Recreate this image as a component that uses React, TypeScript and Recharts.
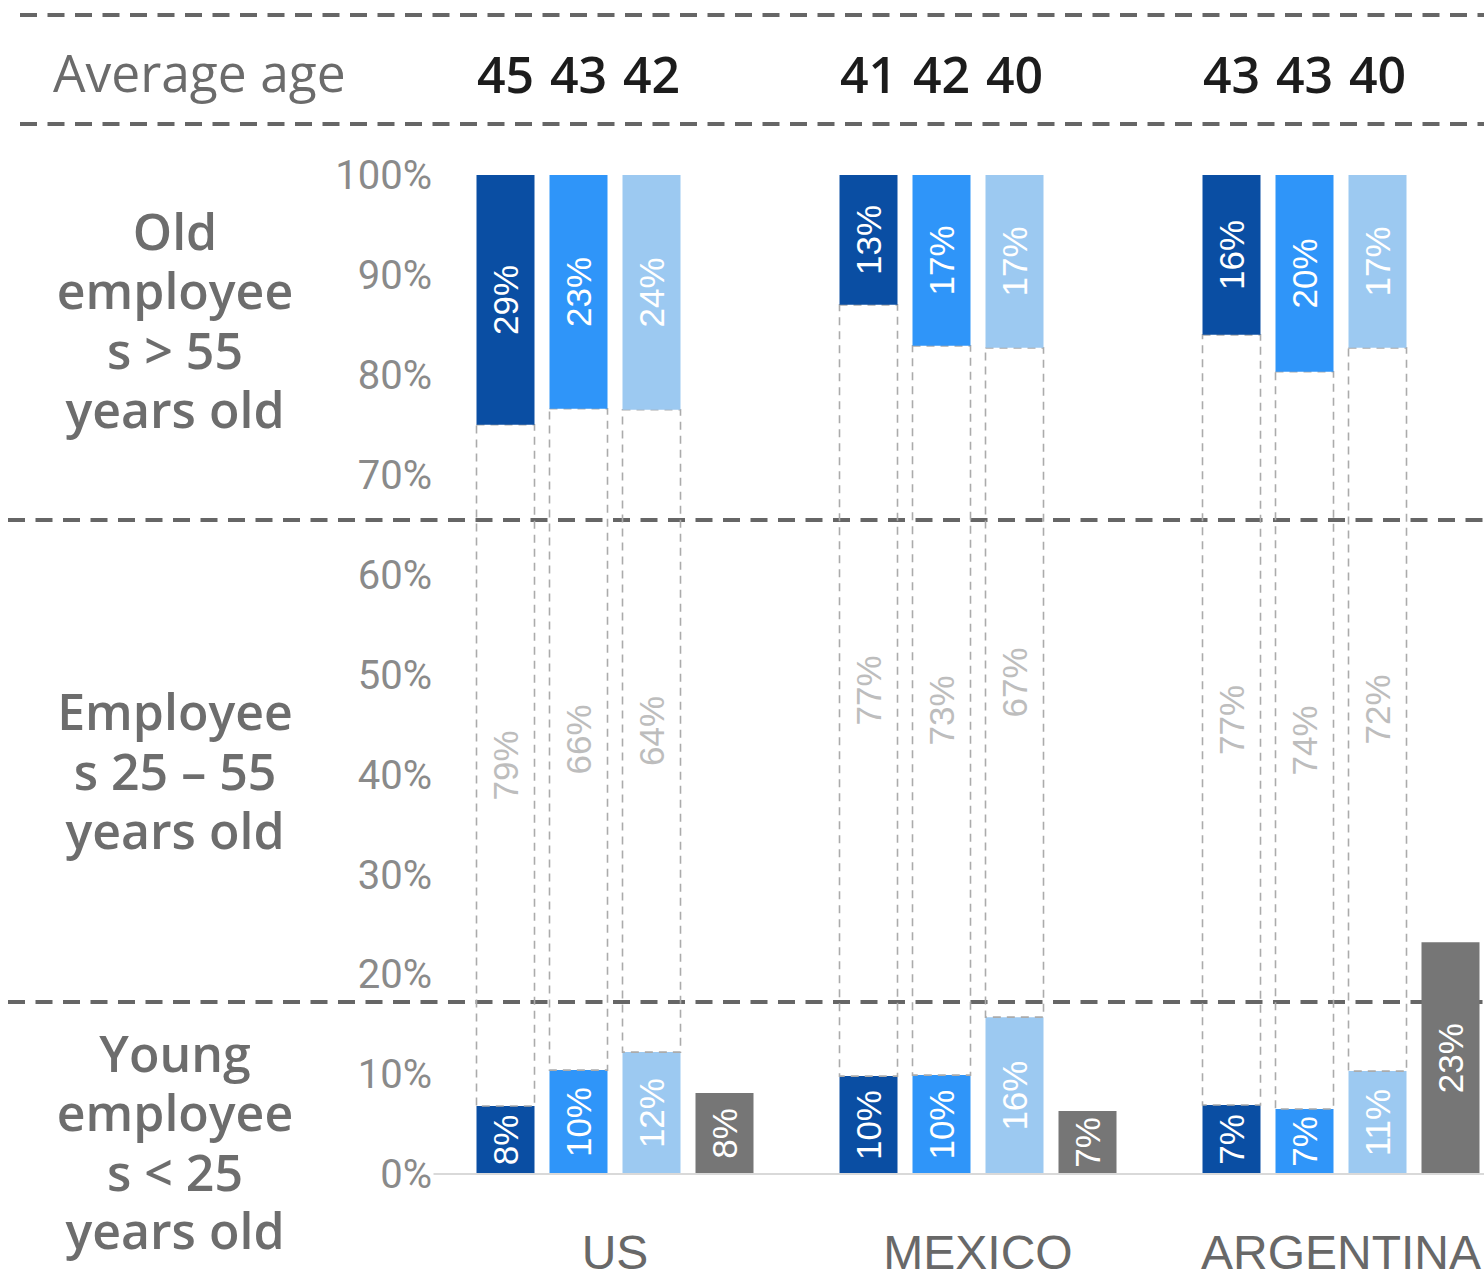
import React from 'react';
import { BarChart, Bar, XAxis, YAxis, LabelList } from 'recharts';

const categories = ['US', 'MEXICO', 'ARGENTINA'];
const yTicks = [0, 10, 20, 30, 40, 50, 60, 70, 80, 90, 100];

// bar segment heights (share of 100%)
const darkYoung = [6.8, 9.8, 6.9];
const darkOld = [25.0, 13.0, 16.0];
const blueYoung = [10.4, 9.9, 6.5];
const blueOld = [23.4, 17.1, 19.7];
const lightYoung = [12.2, 15.7, 10.3];
const lightOld = [23.5, 17.3, 17.3];
const grayValues = [8.1, 6.3, 23.2];

// printed labels
const darkYoungLabels = ['8%', '10%', '7%'];
const darkMidLabels = ['79%', '77%', '77%'];
const darkOldLabels = ['29%', '13%', '16%'];
const blueYoungLabels = ['10%', '10%', '7%'];
const blueMidLabels = ['66%', '73%', '74%'];
const blueOldLabels = ['23%', '17%', '20%'];
const lightYoungLabels = ['12%', '16%', '11%'];
const lightMidLabels = ['64%', '67%', '72%'];
const lightOldLabels = ['24%', '17%', '17%'];
const grayLabels = ['8%', '7%', '23%'];

// average age
const darkAge = [45, 41, 43];
const blueAge = [43, 42, 43];
const lightAge = [42, 40, 40];

const rowLabels = [
  { lines: ['Old', 'employee', 's > 55', 'years old'], baselines: [250, 309, 369, 428] },
  { lines: ['Employee', 's 25 – 55', 'years old'], baselines: [730, 790, 849] },
  { lines: ['Young', 'employee', 's < 25', 'years old'], baselines: [1072, 1131, 1191, 1249] },
];

const data = categories.map((name, i) => ({
  name,
  darkYoung: darkYoung[i],
  darkMid: +(100 - darkYoung[i] - darkOld[i]).toFixed(2),
  darkOld: darkOld[i],
  blueYoung: blueYoung[i],
  blueMid: +(100 - blueYoung[i] - blueOld[i]).toFixed(2),
  blueOld: blueOld[i],
  lightYoung: lightYoung[i],
  lightMid: +(100 - lightYoung[i] - lightOld[i]).toFixed(2),
  lightOld: lightOld[i],
  gray: grayValues[i],
  darkYoungLabel: darkYoungLabels[i],
  darkMidLabel: darkMidLabels[i],
  darkOldLabel: darkOldLabels[i],
  blueYoungLabel: blueYoungLabels[i],
  blueMidLabel: blueMidLabels[i],
  blueOldLabel: blueOldLabels[i],
  lightYoungLabel: lightYoungLabels[i],
  lightMidLabel: lightMidLabels[i],
  lightOldLabel: lightOldLabels[i],
  grayLabel: grayLabels[i],
  darkAge: darkAge[i],
  blueAge: blueAge[i],
  lightAge: lightAge[i],
}));

const COLORS = {
  dark: '#0A4EA3',
  blue: '#2F95F9',
  light: '#9CC9F1',
  gray: '#767676',
};

const LABEL_FONT = '"Liberation Sans", Arial, sans-serif';
const HUMAN_FONT = '"Open Sans", "Noto Sans", sans-serif';

const getBox = (props: any) => {
  const vb = props.viewBox || {};
  const x = props.x ?? vb.x;
  const y = props.y ?? vb.y;
  const width = props.width ?? vb.width;
  const height = props.height ?? vb.height;
  return { x: Number(x), y: Number(y), width: Number(width), height: Number(height) };
};

const insideLabel = (fill: string) => (props: any) => {
  const { x, y, width, height } = getBox(props);
  if (!isFinite(x) || !isFinite(y)) return null;
  const cx = x + width / 2;
  const cy = y + height / 2;
  return (
    <text
      x={cx}
      y={cy}
      transform={`rotate(-90 ${cx} ${cy})`}
      textAnchor="middle"
      dominantBaseline="central"
      fontFamily={LABEL_FONT}
      fontSize={35}
      fill={fill}
    >
      {props.value}
    </text>
  );
};

const ageLabel = (props: any) => {
  const { x, width } = getBox(props);
  if (!isFinite(x)) return null;
  return (
    <text
      x={x + width / 2}
      y={93}
      textAnchor="middle"
      fontFamily={HUMAN_FONT}
      fontWeight={600}
      fontSize={50}
      fill="#1c1c1c"
    >
      {props.value}
    </text>
  );
};

const XTick = (props: any) => {
  const { x, y, payload } = props;
  return (
    <text
      x={x}
      y={y + 95}
      textAnchor="middle"
      fontFamily={LABEL_FONT}
      fontSize={48}
      fill="#686868"
    >
      {payload.value}
    </text>
  );
};

const midStyle = {
  fill: 'none',
  stroke: '#ababab',
  strokeWidth: 1.6,
  strokeDasharray: '8 6',
};

export default function App() {
  return (
    <div style={{ position: 'absolute', left: 0, top: 0, width: 1484, height: 1279, overflow: 'hidden', background: '#fff' }}>
      <svg width={1484} height={1279} style={{ position: 'absolute', left: 0, top: 0 }}>
        <g stroke="#666666" strokeWidth={4} strokeDasharray="17 10.5">
          <line x1={20} y1={15} x2={1484} y2={15} />
          <line x1={20} y1={124} x2={1484} y2={124} />
          <line x1={8} y1={520} x2={1484} y2={520} />
          <line x1={8} y1={1002} x2={1484} y2={1002} />
        </g>
        <text x={53} y={92} fontFamily={HUMAN_FONT} fontSize={51.5} fill="#6b6b6b">
          Average age
        </text>
        {rowLabels.map((r, i) =>
          r.lines.map((ln, j) => (
            <text
              key={`${i}-${j}`}
              x={175}
              y={r.baselines[j]}
              textAnchor="middle"
              fontFamily={HUMAN_FONT}
              fontWeight={600}
              fontSize={50}
              fill="#6d6d6d"
            >
              {ln}
            </text>
          ))
        )}
      </svg>
      <div style={{ position: 'absolute', left: 0, top: 0 }}>
        <BarChart
          width={1530}
          height={1279}
          data={data}
          margin={{ top: 175, right: 7.5, bottom: 0, left: 0 }}
          barGap={15}
        >
          <XAxis
            dataKey="name"
            height={105}
            tickLine={false}
            tickSize={0}
            tickMargin={0}
            axisLine={{ stroke: '#d9d9d9', strokeWidth: 2 }}
            tick={<XTick />}
            interval={0}
          />
          <YAxis
            width={433.5}
            domain={[0, 100]}
            ticks={yTicks}
            interval={0}
            tickFormatter={(v: number) => `${v}%`}
            axisLine={false}
            tickLine={false}
            tickSize={0}
            tickMargin={1.5}
            tick={{ fontFamily: 'Roboto, sans-serif', fontSize: 40, fill: '#8a8a8a' }}
          />

          <Bar dataKey="darkYoung" stackId="dark" fill={COLORS.dark} barSize={58} isAnimationActive={false}>
            <LabelList dataKey="darkYoungLabel" content={insideLabel('#ffffff')} />
          </Bar>
          <Bar dataKey="darkMid" stackId="dark" {...midStyle} barSize={58} isAnimationActive={false}>
            <LabelList dataKey="darkMidLabel" content={insideLabel('#bdbdbd')} />
          </Bar>
          <Bar dataKey="darkOld" stackId="dark" fill={COLORS.dark} barSize={58} isAnimationActive={false}>
            <LabelList dataKey="darkOldLabel" content={insideLabel('#ffffff')} />
            <LabelList dataKey="darkAge" content={ageLabel} />
          </Bar>

          <Bar dataKey="blueYoung" stackId="blue" fill={COLORS.blue} barSize={58} isAnimationActive={false}>
            <LabelList dataKey="blueYoungLabel" content={insideLabel('#ffffff')} />
          </Bar>
          <Bar dataKey="blueMid" stackId="blue" {...midStyle} barSize={58} isAnimationActive={false}>
            <LabelList dataKey="blueMidLabel" content={insideLabel('#bdbdbd')} />
          </Bar>
          <Bar dataKey="blueOld" stackId="blue" fill={COLORS.blue} barSize={58} isAnimationActive={false}>
            <LabelList dataKey="blueOldLabel" content={insideLabel('#ffffff')} />
            <LabelList dataKey="blueAge" content={ageLabel} />
          </Bar>

          <Bar dataKey="lightYoung" stackId="light" fill={COLORS.light} barSize={58} isAnimationActive={false}>
            <LabelList dataKey="lightYoungLabel" content={insideLabel('#ffffff')} />
          </Bar>
          <Bar dataKey="lightMid" stackId="light" {...midStyle} barSize={58} isAnimationActive={false}>
            <LabelList dataKey="lightMidLabel" content={insideLabel('#bdbdbd')} />
          </Bar>
          <Bar dataKey="lightOld" stackId="light" fill={COLORS.light} barSize={58} isAnimationActive={false}>
            <LabelList dataKey="lightOldLabel" content={insideLabel('#ffffff')} />
            <LabelList dataKey="lightAge" content={ageLabel} />
          </Bar>

          <Bar dataKey="gray" stackId="gray" fill={COLORS.gray} barSize={58} isAnimationActive={false}>
            <LabelList dataKey="grayLabel" content={insideLabel('#ffffff')} />
          </Bar>
        </BarChart>
      </div>
    </div>
  );
}
